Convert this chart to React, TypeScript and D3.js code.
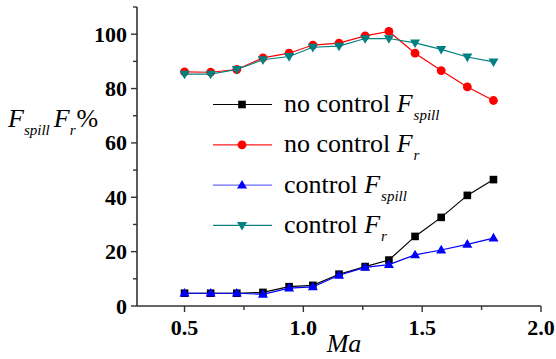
import React from "react";
import * as d3 from "d3";

const machNumbers = [0.5, 0.61, 0.72, 0.83, 0.94, 1.04, 1.15, 1.26, 1.36, 1.47, 1.58, 1.69, 1.8];
const noControlSpill = [4.7, 4.7, 4.7, 5.0, 7.1, 7.6, 11.7, 14.5, 16.9, 25.6, 32.6, 40.7, 46.5];
const noControlFr = [86.1, 86.0, 87.0, 91.3, 93.0, 96.0, 96.7, 99.4, 101.0, 93.0, 86.6, 80.6, 75.6];
const controlSpill = [4.7, 4.7, 4.7, 4.3, 6.6, 7.0, 11.3, 14.2, 15.2, 18.8, 20.6, 22.7, 25.0];
const controlFr = [85.3, 85.3, 87.0, 90.6, 91.8, 95.2, 95.6, 98.4, 98.4, 96.8, 94.4, 91.6, 89.8];

const xMajorTicks = [0.5, 1.0, 1.5, 2.0];
const xMinorTicks = [0.75, 1.25, 1.75];
const yMajorTicks = [0, 20, 40, 60, 80, 100];
const yMinorTicks = [10, 30, 50, 70, 90, 110];

type Marker = "square" | "circle" | "triUp" | "triDown";

const seriesList: { name: string; sub: string; values: number[]; color: string; legendLine: string; marker: Marker }[] = [
  { name: "no control ", sub: "spill", values: noControlSpill, color: "#000000", legendLine: "#000000", marker: "square" },
  { name: "no control ", sub: "r", values: noControlFr, color: "#ff0000", legendLine: "#ff2020", marker: "circle" },
  { name: "control ", sub: "spill", values: controlSpill, color: "#0000ff", legendLine: "#6a6aff", marker: "triUp" },
  { name: "control ", sub: "r", values: controlFr, color: "#008080", legendLine: "#108080", marker: "triDown" },
];

const W = 556;
const H = 359;
const left = 137;
const right = 541;
const top = 7;
const bottom = 306;

const FONT = `"Liberation Serif", monospace`;
const sheet = `.chart text, .chart tspan { font-family: "Liberation Serif", "Tinos", "Times New Roman", monospace !important; }`;

function Label(props: any) {
  const { children, ...rest } = props;
  return (
    <text {...rest} style={{ fontFamily: FONT }}>
      {children}
    </text>
  );
}

function MarkerShape({ type, x, y, color }: { type: Marker; x: number; y: number; color: string }) {
  if (type === "square") return <rect x={x - 3.8} y={y - 3.8} width={7.6} height={7.6} fill={color} />;
  if (type === "circle") return <circle cx={x} cy={y} r={4.4} fill={color} />;
  if (type === "triUp")
    return <path d={`M${x},${y - 5.2}L${x + 5},${y + 3.4}L${x - 5},${y + 3.4}Z`} fill={color} />;
  return <path d={`M${x},${y + 5.2}L${x + 5},${y - 3.4}L${x - 5},${y - 3.4}Z`} fill={color} />;
}

export default function App() {
  const x = d3.scaleLinear().domain([0.3, 2.0]).range([left, right]);
  const y = d3.scaleLinear().domain([0, 110]).range([bottom, top]);
  const line = d3
    .line<number>()
    .x((_, i) => x(machNumbers[i]))
    .y((d) => y(d));

  const axisColor = "#333";

  return (
    <svg className="chart" width={W} height={H} style={{ position: "absolute", left: 0, top: 0 }}>
      <style>{sheet}</style>
      <rect width={W} height={H} fill="#fff" />
      {/* data series */}
      {seriesList.map((s) => (
        <g key={s.name + s.sub}>
          <path d={line(s.values) || ""} fill="none" stroke={s.color} strokeWidth={1.2} />
          {s.values.map((v, i) => (
            <MarkerShape key={i} type={s.marker} x={x(machNumbers[i])} y={y(v)} color={s.color} />
          ))}
        </g>
      ))}

      {/* axes */}
      <line x1={left} x2={left} y1={top} y2={bottom} stroke={axisColor} strokeWidth={1.6} />
      <line x1={left} x2={right} y1={bottom} y2={bottom} stroke={axisColor} strokeWidth={1.6} />
      {yMajorTicks.map((t) => (
        <g key={"ym" + t}>
          <line x1={left - 6} x2={left} y1={y(t)} y2={y(t)} stroke={axisColor} strokeWidth={1.4} />
          <Label x={left - 10} y={y(t) + 7.5} textAnchor="end" fontWeight="bold" fontSize={22}>
            {t}
          </Label>
        </g>
      ))}
      {yMinorTicks.map((t) => (
        <line key={"yn" + t} x1={left - 4} x2={left} y1={y(t)} y2={y(t)} stroke={axisColor} strokeWidth={1.4} />
      ))}
      {xMajorTicks.map((t) => (
        <g key={"xm" + t}>
          <line x1={x(t)} x2={x(t)} y1={bottom} y2={bottom + 6} stroke={axisColor} strokeWidth={1.4} />
          <Label x={x(t)} y={335} textAnchor="middle" fontWeight="bold" fontSize={22}>
            {d3.format(".1f")(t)}
          </Label>
        </g>
      ))}
      {xMinorTicks.map((t) => (
        <line key={"xn" + t} x1={x(t)} x2={x(t)} y1={bottom} y2={bottom + 4} stroke={axisColor} strokeWidth={1.4} />
      ))}

      {/* axis titles */}
      <Label x={344} y={352} textAnchor="middle" fontStyle="italic" fontSize={26}>
        Ma
      </Label>
      <Label x={8} y={127} fontSize={26}>
        <tspan fontStyle="italic">F</tspan>
        <tspan fontStyle="italic" fontSize={15} dy={8}>spill</tspan>
        <tspan fontStyle="italic" dy={-8} dx={4}>F</tspan>
        <tspan fontStyle="italic" fontSize={15} dy={8}>r</tspan>
        <tspan dy={-8} dx={1}>%</tspan>
      </Label>

      {/* legend */}
      {seriesList.map((s, i) => {
        const ly = 104.5 + i * 40.3;
        return (
          <g key={"lg" + i}>
            <line x1={213} x2={272} y1={ly} y2={ly} stroke={s.legendLine} strokeWidth={1.2} />
            <MarkerShape type={s.marker} x={242} y={ly} color={s.color} />
            <Label x={284} y={ly + 7.5} fontSize={26}>
              {s.name}
              <tspan fontStyle="italic">F</tspan>
              <tspan fontStyle="italic" fontSize={15} dy={8} dx={1}>{s.sub}</tspan>
            </Label>
          </g>
        );
      })}
    </svg>
  );
}
